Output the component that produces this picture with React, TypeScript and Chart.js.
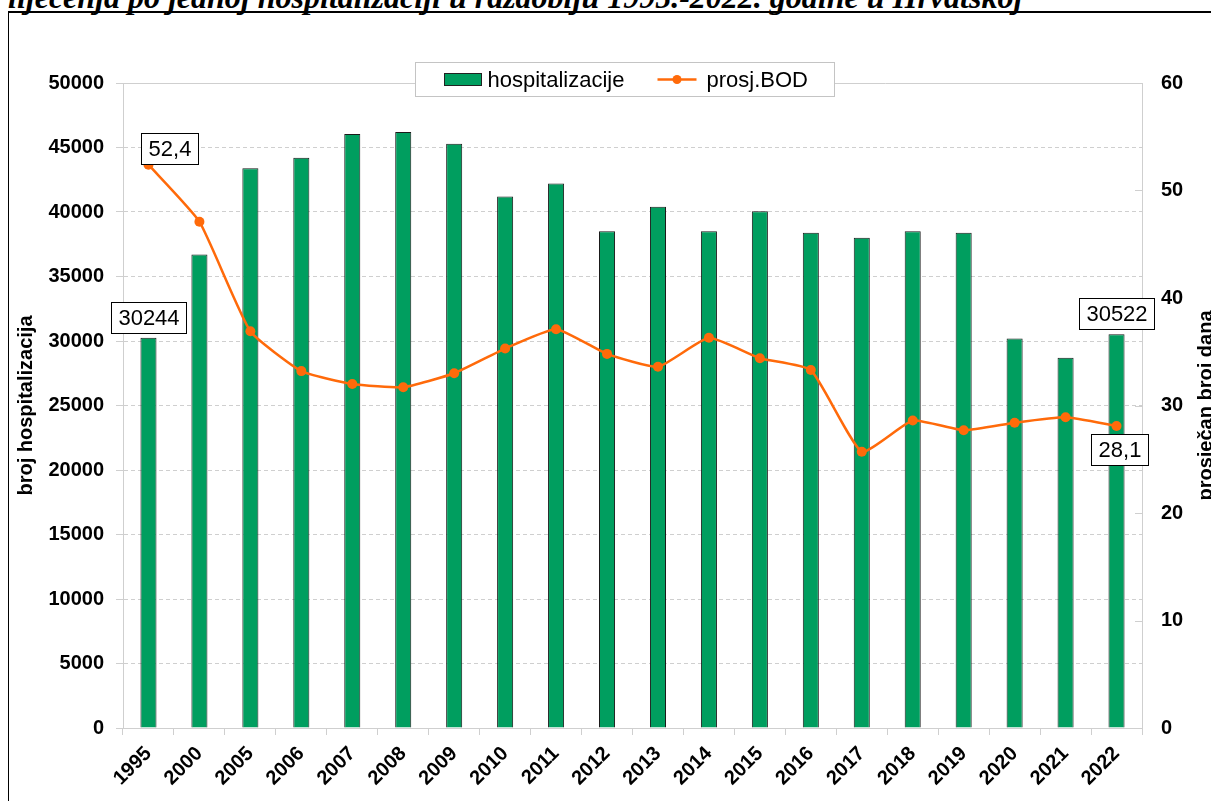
import React, { useEffect, useRef } from "react";
import { Chart, registerables } from "chart.js";

Chart.register(...registerables);

const titleText = "liječenja po jednoj hospitalizaciji u razdoblju 1995.-2022. godine u Hrvatskoj";
const years = ["1995", "2000", "2005", "2006", "2007", "2008", "2009", "2010", "2011", "2012", "2013", "2014", "2015", "2016", "2017", "2018", "2019", "2020", "2021", "2022"];
const hospitalizacije = [30244, 36700, 43400, 44200, 46050, 46200, 45300, 41200, 42200, 38500, 40400, 38500, 40050, 38400, 38000, 38500, 38400, 30200, 28700, 30522];
const prosjBOD = [52.4, 47.1, 36.9, 33.2, 32.0, 31.7, 33.0, 35.3, 37.1, 34.8, 33.6, 36.3, 34.4, 33.3, 25.7, 28.6, 27.7, 28.4, 28.9, 28.1];
const leftMax = 50000;
const leftStep = 5000;
const rightMax = 60;
const rightStep = 10;
const barLegend = "hospitalizacije";
const lineLegend = "prosj.BOD";
const leftTitle = "broj hospitalizacija";
const rightTitle = "prosječan broj dana";

const GREEN = "#009e5f";
const ORANGE = "#ff6a0a";
const GRID = "#cfcfcf";
const FONT = "'Liberation Sans', Arial, sans-serif";

function drawBox(ctx: CanvasRenderingContext2D, text: string, cx: number, cy: number) {
  ctx.font = `22px ${FONT}`;
  const tw = ctx.measureText(text).width;
  const w = Math.round(tw + 14);
  const h = 31;
  const x = Math.round(cx - w / 2) + 0.5;
  const y = Math.round(cy - h / 2) + 0.5;
  ctx.fillStyle = "#ffffff";
  ctx.fillRect(x, y, w, h);
  ctx.strokeStyle = "#000000";
  ctx.lineWidth = 1;
  ctx.strokeRect(x, y, w, h);
  ctx.fillStyle = "#000000";
  ctx.textAlign = "center";
  ctx.textBaseline = "middle";
  ctx.fillText(text, x + w / 2, y + h / 2 + 1);
}

const fmtDec = (v: number) => v.toFixed(1).replace(".", ",");

const overlay = {
  id: "overlay",
  beforeDatasetsDraw(chart: any) {
    const { ctx, chartArea: a } = chart;
    ctx.save();
    ctx.strokeStyle = GRID;
    ctx.lineWidth = 1;
    ctx.setLineDash([]);
    ctx.beginPath();
    ctx.moveTo(a.left - 7, Math.round(a.top) + 0.5);
    ctx.lineTo(a.right, Math.round(a.top) + 0.5);
    ctx.stroke();
    const y2 = chart.scales.y2;
    y2.ticks.forEach((_t: any, i: number) => {
      const y = Math.round(y2.getPixelForTick(i)) + 0.5;
      ctx.beginPath();
      ctx.moveTo(a.right - 7, y);
      ctx.lineTo(a.right, y);
      ctx.stroke();
    });
    ctx.restore();
  },
  afterDraw(chart: any) {
    const { ctx, chartArea: a } = chart;
    ctx.save();
    const barMeta = chart.getDatasetMeta(1);
    const lineMeta = chart.getDatasetMeta(0);
    const last = years.length - 1;
    [0, last].forEach((i) => {
      const b = barMeta.data[i];
      drawBox(ctx, String(hospitalizacije[i]), b.x, b.y - 5 - 15.5);
    });
    const p0 = lineMeta.data[0];
    drawBox(ctx, fmtDec(prosjBOD[0]), p0.x + 21, p0.y - 16);
    const pl = lineMeta.data[last];
    drawBox(ctx, fmtDec(prosjBOD[last]), pl.x + 3, pl.y + 24);

    // legend
    const cx = (a.left + a.right) / 2 - 8;
    const lx = Math.round(cx - 209.5) + 0.5;
    const ly = 62.5;
    ctx.fillStyle = "#ffffff";
    ctx.fillRect(lx, ly, 419, 34);
    ctx.strokeStyle = "#c4c4c4";
    ctx.lineWidth = 1;
    ctx.strokeRect(lx, ly, 419, 34);
    const my = ly + 17;
    ctx.fillStyle = GREEN;
    ctx.fillRect(lx + 29, my - 6, 37, 12);
    ctx.strokeStyle = "#222";
    ctx.strokeRect(lx + 29, my - 6, 37, 12);
    ctx.fillStyle = "#000";
    ctx.font = `22px ${FONT}`;
    ctx.textAlign = "left";
    ctx.textBaseline = "middle";
    ctx.fillText(barLegend, lx + 72, my + 1);
    ctx.strokeStyle = ORANGE;
    ctx.lineWidth = 2.5;
    ctx.beginPath();
    ctx.moveTo(lx + 242, my);
    ctx.lineTo(lx + 281, my);
    ctx.stroke();
    ctx.fillStyle = ORANGE;
    ctx.beginPath();
    ctx.arc(lx + 261.5, my, 4.5, 0, Math.PI * 2);
    ctx.fill();
    ctx.fillStyle = "#000";
    ctx.fillText(lineLegend, lx + 291, my + 1);

    // axis titles
    const midY = (a.top + a.bottom) / 2;
    ctx.font = `bold 20px ${FONT}`;
    ctx.textAlign = "center";
    ctx.textBaseline = "alphabetic";
    ctx.save();
    ctx.translate(32, midY);
    ctx.rotate(-Math.PI / 2);
    ctx.fillText(leftTitle, 0, 0);
    ctx.restore();
    ctx.save();
    ctx.translate(a.right + 70, midY);
    ctx.rotate(-Math.PI / 2);
    ctx.fillText(rightTitle, 0, 0);
    ctx.restore();
    ctx.restore();
  },
};

export default function App() {
  const ref = useRef<HTMLCanvasElement | null>(null);
  useEffect(() => {
    if (!ref.current) return;
    const chart = new Chart(ref.current, {
      type: "bar",
      data: {
        labels: years,
        datasets: [
          {
            type: "line",
            label: lineLegend,
            data: prosjBOD,
            yAxisID: "y2",
            borderColor: ORANGE,
            backgroundColor: ORANGE,
            borderWidth: 2.5,
            pointRadius: 5,
            pointBackgroundColor: ORANGE,
            pointBorderWidth: 0,
            tension: 0.15,
            order: 0,
          } as any,
          {
            type: "bar",
            label: barLegend,
            data: hospitalizacije,
            yAxisID: "y",
            backgroundColor: GREEN,
            borderColor: "#1a1a1a",
            borderWidth: 1,
            barPercentage: 0.315,
            categoryPercentage: 1,
            order: 1,
          } as any,
        ],
      },
      options: {
        responsive: false,
        animation: false,
        layout: { padding: { top: 83, left: 0, right: 0, bottom: 0 } },
        plugins: { legend: { display: false }, tooltip: { enabled: false }, title: { display: false } },
        scales: {
          x: {
            offset: true,
            grid: { display: true, drawOnChartArea: false, offset: true, tickLength: 7, color: GRID },
            border: { color: GRID },
            ticks: {
              autoSkip: false,
              minRotation: 45,
              maxRotation: 45,
              padding: 7,
              color: "#000",
              font: { family: FONT, size: 20, weight: "bold" },
            },
            afterFit: (s: any) => { s.height = 73; },
          },
          y: {
            position: "left",
            min: 0,
            max: leftMax,
            ticks: {
              stepSize: leftStep,
              padding: 12,
              color: "#000",
              font: { family: FONT, size: 20, weight: "bold" },
              callback: (v: any) => String(v),
            },
            grid: { color: GRID, tickLength: 7, tickBorderDash: [] },
            border: { color: GRID, dash: [4, 3] },
            afterFit: (s: any) => { s.width = 123; },
          },
          y2: {
            position: "right",
            min: 0,
            max: rightMax,
            ticks: {
              stepSize: rightStep,
              padding: 19,
              color: "#000",
              font: { family: FONT, size: 20, weight: "bold" },
              callback: (v: any) => String(v),
            },
            grid: { drawOnChartArea: false, drawTicks: false },
            border: { color: GRID },
            afterFit: (s: any) => { s.width = 69; },
          },
        } as any,
      },
      plugins: [overlay],
    });
    return () => chart.destroy();
  }, []);

  return (
    <div style={{ position: "fixed", left: 0, top: 0, width: 1211, height: 801, overflow: "hidden", background: "#fff" }}>
      <div
        style={{
          position: "absolute",
          left: 8,
          top: 11,
          width: 1400,
          height: 1000,
          borderTop: "2px solid #000",
          borderLeft: "1px solid #000",
        }}
      />
      <div
        style={{
          position: "absolute",
          left: 8,
          top: -19,
          font: "italic bold 32px 'Liberation Serif', 'Times New Roman', serif",
          lineHeight: "32px",
          whiteSpace: "nowrap",
          color: "#000",
        }}
      >
        {titleText}
      </div>
      <canvas ref={ref} width={1211} height={801} style={{ position: "absolute", left: 0, top: 0, width: 1211, height: 801 }} />
    </div>
  );
}
